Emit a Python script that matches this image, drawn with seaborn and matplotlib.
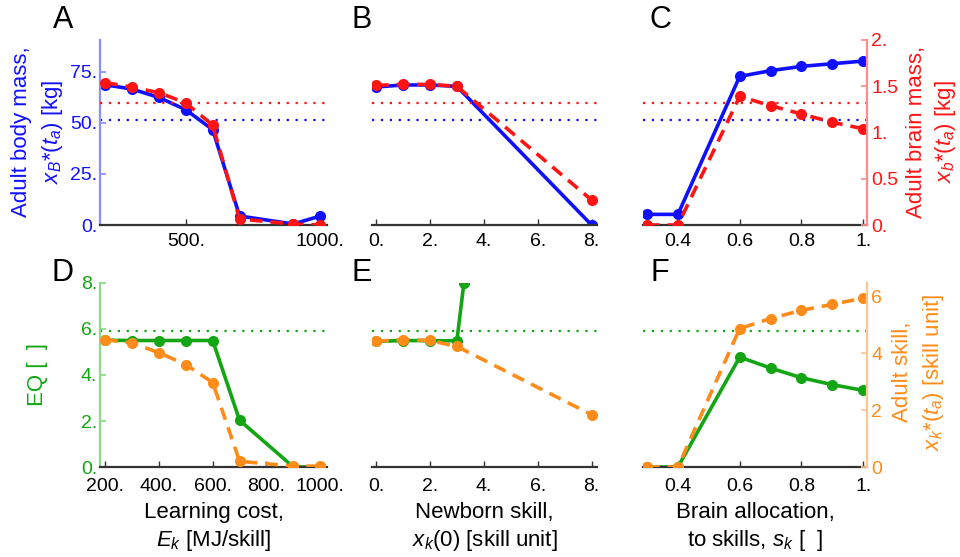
import numpy as np
import pandas as pd
import matplotlib
matplotlib.use("Agg")
import matplotlib.pyplot as plt
import seaborn as sns
from matplotlib.ticker import FuncFormatter, FixedLocator

# ---------------- data ----------------
cost = [200, 300, 400, 500, 600, 700, 900, 1000]
cost_body = [68.6, 66.5, 62.4, 56.4, 46.6, 4.4, 0.5, 4.4]
cost_brain = [1.54, 1.49, 1.43, 1.32, 1.08, 0.065, 0.01, 0.0]
cost_eq = [5.51, 5.5, 5.5, 5.5, 5.5, 2.03, 0.0, 0.0]
cost_skill = [4.48, 4.36, 4.02, 3.6, 2.97, 0.2, 0.03, 0.03]

newborn = [0, 1, 2, 3, 8]
newborn_body = [67.5, 68.5, 68.5, 67.8, 0.0]
newborn_brain = [1.51, 1.52, 1.52, 1.50, 0.27]
newborn_eq_x = [0, 1, 2, 3, 3.26]
newborn_eq = [5.46, 5.5, 5.49, 5.49, 8.0]
newborn_skill = [4.42, 4.48, 4.45, 4.24, 1.84]

alloc = [0.3, 0.4, 0.6, 0.7, 0.8, 0.9, 1.0]
alloc_body = [5.2, 5.2, 72.7, 75.5, 77.6, 78.9, 80.2]
alloc_brain = [0.0, 0.0, 1.39, 1.29, 1.20, 1.11, 1.04]
alloc_eq = [0.0, 0.0, 4.78, 4.30, 3.88, 3.58, 3.33]
alloc_skill = [0.0, 0.0, 4.87, 5.22, 5.51, 5.72, 5.94]

ref_body = 51.5
ref_brain = 1.315
ref_eq = 5.9

panel_letters = ["A", "B", "C", "D", "E", "F"]

# ---------------- style ----------------
sns.set_theme(style="white")
plt.rcParams['font.family'] = ['Liberation Sans', 'DejaVu Sans']
plt.rcParams['mathtext.fontset'] = 'custom'
plt.rcParams['mathtext.rm'] = 'Liberation Sans'
plt.rcParams['mathtext.it'] = 'Liberation Sans:italic'
plt.rcParams['mathtext.bf'] = 'Liberation Sans:bold'

BLUE = "#1010ff"
RED = "#ff1414"
GREEN = "#14a514"
ORANGE = "#ff8c1a"
BLUE_L = "#8c8cff"
RED_L = "#ff8c8c"
GREEN_L = "#8cd88c"
ORANGE_L = "#ffc690"
DARK = "#333333"

LW = 2.6
MS = 8.0
TICK_FS = 14
LAB_FS = 16


def dotfmt(v, pos=None):
    if abs(v - round(v)) < 1e-9:
        return f"{int(round(v))}."
    return f"{v:g}"


def intfmt(v, pos=None):
    return f"{int(round(v))}"


fig = plt.figure(figsize=(9.6, 5.57), dpi=100)

W, H = 960, 557
colx = [(100, 327), (372, 597), (643, 867)]
rowy = [(40, 225), (283, 467)]


def make_axes(ci, ri, xpad):
    x0, x1 = colx[ci]
    y0, y1 = rowy[ri]
    ax = fig.add_axes([x0 / W, 1 - y1 / H, (x1 - x0) / W, (y1 - y0) / H])
    ax2 = ax.twinx()
    for a in (ax, ax2):
        a.patch.set_visible(False)
        for s in a.spines.values():
            s.set_visible(False)
    ax.spines['bottom'].set_visible(True)
    ax.spines['bottom'].set_color(DARK)
    ax.spines['bottom'].set_linewidth(1.6)
    ax.tick_params(axis='x', direction='in', length=4, width=1, color=DARK,
                   labelsize=TICK_FS, labelcolor='black', pad=xpad,
                   bottom=True, top=False)
    ax.tick_params(axis='y', left=False, right=False, labelleft=False)
    ax2.tick_params(axis='y', left=False, right=False, labelright=False)
    return ax, ax2


def line(ax, x, y, color, ls):
    sns.lineplot(x=x, y=y, ax=ax, color=color, linestyle=ls, linewidth=LW,
                 marker='o', markersize=MS, markeredgewidth=0, sort=False,
                 legend=False)


def ref(ax, y, color):
    ax.axhline(y, color=color, linewidth=1.6, linestyle=(0, (1, 3)))


def vlabel(px, py, s, color, ls=1.35):
    fig.text(px / W, 1 - py / H, s, rotation=90, ha='center', va='center',
             multialignment='center', fontsize=LAB_FS, color=color,
             linespacing=ls)


dash = (0, (3.5, 2.2))

# ---------------- top row ----------------
top_x = [cost, newborn, alloc]
top_body = [cost_body, newborn_body, alloc_body]
top_brain = [cost_brain, newborn_brain, alloc_brain]
xlims = [(181, 1025), (-0.15, 8.2), (0.287, 1.012)]
xticks_top = [[500, 1000], [0, 2, 4, 6, 8], [0.4, 0.6, 0.8, 1.0]]
xticks_bot = [[200, 400, 600, 800, 1000], [0, 2, 4, 6, 8], [0.4, 0.6, 0.8, 1.0]]

for ci in range(3):
    ax, ax2 = make_axes(ci, 0, 5.5)
    ax.set_ylim(0, 90.5)
    ax2.set_ylim(0, 2.0)
    ax.set_xlim(*xlims[ci])
    ref(ax, ref_body, BLUE)
    ref(ax2, ref_brain, RED)
    line(ax, top_x[ci], top_body[ci], BLUE, '-')
    line(ax2, top_x[ci], top_brain[ci], RED, dash)
    ax.set_xlim(*xlims[ci])
    ax.xaxis.set_major_locator(FixedLocator(xticks_top[ci]))
    ax.xaxis.set_major_formatter(FuncFormatter(dotfmt))
    ax.set_xlabel("")
    ax.set_ylabel("")
    ax2.set_ylabel("")
    if ci == 0:
        ax.spines['left'].set_visible(True)
        ax.spines['left'].set_color(BLUE_L)
        ax.spines['left'].set_linewidth(1.6)
        ax.set_yticks([0, 25, 50, 75])
        ax.yaxis.set_major_formatter(FuncFormatter(dotfmt))
        ax.tick_params(axis='y', left=True, labelleft=True, direction='in',
                       length=4, color=BLUE_L, labelcolor=BLUE,
                       labelsize=TICK_FS, pad=2)
    if ci == 2:
        ax2.spines['right'].set_visible(True)
        ax2.spines['right'].set_color(RED_L)
        ax2.spines['right'].set_linewidth(1.6)
        ax2.set_yticks([0, 0.5, 1.0, 1.5, 2.0])
        ax2.yaxis.set_major_formatter(FuncFormatter(dotfmt))
        ax2.tick_params(axis='y', right=True, labelright=True, direction='in',
                        length=4, color=RED_L, labelcolor=RED,
                        labelsize=TICK_FS, pad=3)

vlabel(38, 132, "Adult body mass,\n$x_{B}$*($t_{a}$) [kg]", BLUE, 1.42)
vlabel(932, 132, "Adult brain mass,\n$x_{b}$*($t_{a}$) [kg]", RED, 1.3)

# ---------------- bottom row ----------------
bot_eq_x = [cost, newborn_eq_x, alloc]
bot_skill_x = [cost, newborn, alloc]
bot_eq = [cost_eq, newborn_eq, alloc_eq]
bot_skill = [cost_skill, newborn_skill, alloc_skill]
xlabels = ["Learning cost,\n$E_{k}$ [MJ/skill]",
           "Newborn skill,\n$x_{k}$(0) [skill unit]",
           "Brain allocation,\nto skills, $s_{k}$ [  ]"]

for ci in range(3):
    ax, ax2 = make_axes(ci, 1, 8)
    ax.set_ylim(0, 8.0)
    ax2.set_ylim(0, 6.47)
    ax.set_xlim(*xlims[ci])
    ref(ax, ref_eq, GREEN)
    line(ax, bot_eq_x[ci], bot_eq[ci], GREEN, '-')
    line(ax2, bot_skill_x[ci], bot_skill[ci], ORANGE, dash)
    ax.set_xlim(*xlims[ci])
    ax.xaxis.set_major_locator(FixedLocator(xticks_bot[ci]))
    ax.xaxis.set_major_formatter(FuncFormatter(dotfmt))
    ax.set_ylabel("")
    ax2.set_ylabel("")
    ax.set_xlabel(xlabels[ci], fontsize=LAB_FS, color='black', linespacing=1.3)
    ax.xaxis.set_label_coords(0.5, -0.33)
    ax.xaxis.label.set_va('center')
    if ci == 0:
        ax.spines['left'].set_visible(True)
        ax.spines['left'].set_color(GREEN_L)
        ax.spines['left'].set_linewidth(1.6)
        ax.set_yticks([0, 2, 4, 6, 8])
        ax.yaxis.set_major_formatter(FuncFormatter(dotfmt))
        ax.tick_params(axis='y', left=True, labelleft=True, direction='in',
                       length=4, color=GREEN_L, labelcolor=GREEN,
                       labelsize=TICK_FS, pad=2)
    if ci == 2:
        ax2.spines['right'].set_visible(True)
        ax2.spines['right'].set_color(ORANGE_L)
        ax2.spines['right'].set_linewidth(1.6)
        ax2.set_yticks([0, 2, 4, 6])
        ax2.yaxis.set_major_formatter(FuncFormatter(intfmt))
        ax2.tick_params(axis='y', right=True, labelright=True, direction='in',
                        length=4, color=ORANGE_L, labelcolor=ORANGE,
                        labelsize=TICK_FS, pad=3)

vlabel(38, 375, "EQ [  ]", GREEN)
vlabel(919, 372, "Adult skill,\n$x_{k}$*($t_{a}$) [skill unit]", ORANGE, 1.4)

# ---------------- panel letters ----------------
letter_pos = [(63, 20), (362, 20), (660, 20), (63, 273), (362, 273), (660, 273)]
for lt, (px, py) in zip(panel_letters, letter_pos):
    fig.text(px / W, 1 - py / H, lt, fontsize=22, ha='center', va='center',
             color='black')

fig.savefig("out.png", dpi=100)
